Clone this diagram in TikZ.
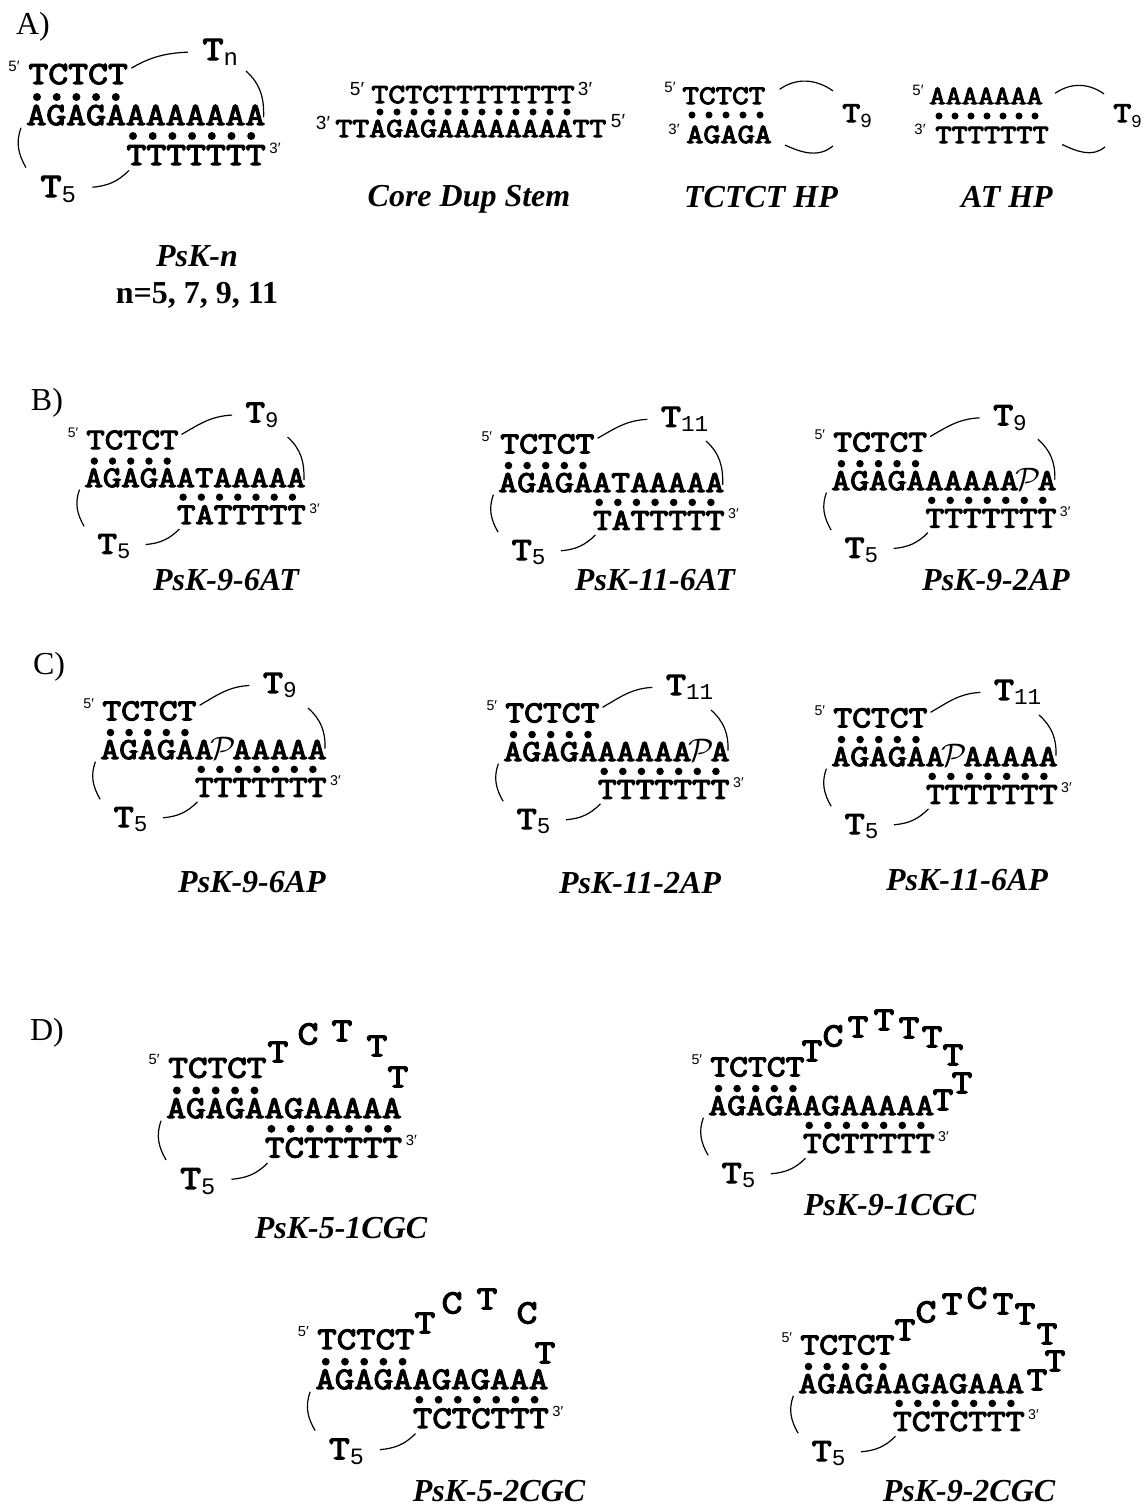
\documentclass[tikz,border=0pt]{standalone}
\usepackage{fontspec}
\setmainfont{Liberation Serif}
\newfontfamily\seqfam[FakeStretch=1.2,FakeBold=4]{Latin Modern Mono}
\newfontfamily\subfam{Liberation Mono}
\newfontfamily\endfam{Liberation Sans}
\usetikzlibrary{positioning}
\newcommand{\ap}{\makebox[0.63em]{$\mathcal{P}$}}
\newcommand{\tlabel}[2][12]{T\raisebox{-2.6pt}{\subfam\fontsize{#1}{#1}\selectfont #2}}
% stem of a hairpin with the T5 tail: name, x, y, scale, middle strand, bottom strand
\newcommand{\stemfig}[6]{%
\begin{scope}[shift={(#2,#3)}, scale=#4, transform shape]
\node[seq] (#1top) at (0,-41) {TCTCT};
\node[seq] (#1mid) at (-2,0) {#5};
\node[seq] (#1bot) at (98,40) {#6};
\node[ends] (#1five) at (-14,-59) {5′};
\node[ends] (#1three) at (247,23) {3′};
\node[tees] (#1tail) at (12,72) {\tlabel{5}};
\foreach \i in {0,...,4} \fill (9+19.7*\i,-28) circle (4);
\foreach \i in {0,...,6} \fill (105+19.7*\i,11) circle (4);
\draw[link] ([shift={(-5,2)}]#1mid.south west) to[out=250,in=120] ([shift={(-14,-8)}]#1tail.north west);
\draw[link] ([shift={(16,-2)}]#1tail.east) to[out=5,in=225] ([shift={(3,5)}]#1bot.south west);
\end{scope}}
% loop over the stem: name, x, y, scale, subscript, position of the T
\newcommand{\loopfig}[6]{%
\begin{scope}[shift={(#2,#3)}, scale=#4, transform shape]
\node[tees] (#1loop) at (#6) {\tlabel{#5}};
\coordinate (#1turn) at (218,-54);
\draw[link] ([shift={(3,-6)}]#1top.east) to[out=30,in=183] ([shift={(-14,0)}]#1loop.west);
\draw[link] (#1turn) to[out=-42,in=88] ([shift={(-2,13)}]#1mid.north east);
\end{scope}}
\begin{document}
\begin{tikzpicture}[x=0.5pt, y=-0.5pt,
  seq/.style={font=\seqfam\fontsize{16.1}{16.1}\selectfont, anchor=base west, inner sep=0pt},
  tees/.style={font=\seqfam\fontsize{17.2}{17.2}\selectfont, anchor=base west, inner sep=0pt},
  lett/.style={font=\seqfam\fontsize{16.8}{16.8}\selectfont, inner sep=0pt},
  ends/.style={font=\endfam\fontsize{7.5}{7.5}\selectfont, inner sep=0pt},
  endb/.style={font=\endfam\fontsize{9.5}{9.5}\selectfont, inner sep=0pt},
  title/.style={font=\fontsize{16}{18}\selectfont\bfseries\itshape, inner sep=0pt},
  panel/.style={font=\fontsize{16}{18}\selectfont, inner sep=0pt},
  link/.style={line width=0.6pt}]
\useasboundingbox (0,0) rectangle (1142,1506);
% A
\node[panel] (pa) at (33,27) {A)};
\stemfig{a}{28}{125}{1}{AGAGAAAAAAAA}{TTTTTTT}
\loopfig{a}{28}{125}{1}{n}{174,-65}
\node[title] (capa) at (197,256) {PsK-n};
\node[title, font=\fontsize{16}{18}\selectfont\bfseries] (capn) at (197,295) {n=5, 7, 9, 11};
% core duplex
\node[seq, font=\seqfam\fontsize{13.7}{14}\selectfont] (dtop) at (371,103) {TCTCTTTTTTTT};
\node[seq, font=\seqfam\fontsize{13.7}{14}\selectfont] (dbot) at (335,137) {TTAGAGAAAAAAAATT};
\foreach \i in {0,...,11} \fill (380+17*\i,112) circle (3.5);
\node[endb] (d5a) at (357,89) {5′};
\node[endb] (d3a) at (585,89) {3′};
\node[endb] (d3b) at (323,123) {3′};
\node[endb] (d5b) at (618,121) {5′};
\node[title] (capd) at (469,199) {Core Dup Stem};
% TCTCT hairpin
\node[seq, font=\seqfam\fontsize{13.4}{14}\selectfont] (htop) at (682,104) {TCTCT};
\node[seq, font=\seqfam\fontsize{13.8}{14}\selectfont] (hbot) at (686,143) {AGAGA};
\foreach \i in {0,...,4} \fill (692+17*\i,115) circle (3.5);
\node[ends] (h5) at (670,87) {5′};
\node[ends] (h3) at (674,129) {3′};
\node[tees, font=\seqfam\fontsize{14.4}{15}\selectfont] (hloop) at (842,122) {\tlabel[10]{9}};
\draw[link] ([shift={(14,-6.5)}]htop.east) to[out=35,in=145] ([shift={(-9,-25)}]hloop.west);
\draw[link] ([shift={(13,10.5)}]hbot.east) to[out=-25,in=-140] ([shift={(-9,30)}]hloop.west);
\node[title] (caph) at (761,197) {TCTCT HP};
% AT hairpin
\node[seq, font=\seqfam\fontsize{13.1}{14}\selectfont] (ttop) at (929,104) {AAAAAAA};
\node[seq, font=\seqfam\fontsize{13.1}{14}\selectfont] (tbot) at (935,143) {TTTTTTT};
\foreach \i in {0,...,6} \fill (939+16*\i,116) circle (3.5);
\node[ends] (t5) at (918,90) {5′};
\node[ends] (t3) at (920,129) {3′};
\node[tees, font=\seqfam\fontsize{14.4}{15}\selectfont] (tloop) at (1113,122) {\tlabel[9]{9}};
\draw[link] ([shift={(12,-2.5)}]ttop.east) to[out=35,in=145] ([shift={(-9,-22)}]tloop.west);
\draw[link] ([shift={(13,9.5)}]tbot.east) to[out=-25,in=-140] ([shift={(-8,31)}]tloop.west);
\node[title] (capt) at (1007,197) {AT HP};
% B
\node[panel] (pb) at (47,403) {B)};
\stemfig{b}{86}{487}{0.925}{AGAGAATAAAAA}{TATTTTT}
\loopfig{b}{86}{487}{0.925}{9}{172,-70}
\node[title] (capb) at (226,580) {PsK-9-6AT};
\stemfig{c}{500}{492}{0.945}{AGAGAATAAAAA}{TATTTTT}
\loopfig{c}{500}{492}{0.945}{11}{170,-69}
\node[title] (capc) at (655,580) {PsK-11-6AT};
\stemfig{e}{833}{490}{0.94}{AGAGAAAAAA\ap A}{TTTTTTT}
\loopfig{e}{833}{490}{0.94}{9}{170,-69}
\node[title] (cape) at (996,580) {PsK-9-2AP};
% C
\node[panel] (pc) at (49,667) {C)};
\stemfig{f}{102}{759}{0.945}{AGAGAA\ap AAAAA}{TTTTTTT}
\loopfig{f}{102}{759}{0.945}{9}{170,-70}
\node[title] (capf) at (252,882) {PsK-9-6AP};
\stemfig{g}{505}{761}{0.945}{AGAGAAAAAA\ap A}{TTTTTTT}
\loopfig{g}{505}{761}{0.945}{11}{170,-70}
\node[title] (capg) at (640,883) {PsK-11-2AP};
\stemfig{h}{833}{766}{0.945}{AGAGAA\ap AAAAA}{TTTTTTT}
\loopfig{h}{833}{766}{0.945}{11}{170,-70}
\node[title] (caph2) at (967,880) {PsK-11-6AP};
% D
\node[panel] (pd) at (47,1033) {D)};
\stemfig{j}{168}{1118}{0.985}{AGAGAAGAAAAA}{TCTTTTT}
\foreach \n/\px/\py/\l in {1/278/1052/T,2/308/1034/C,3/342/1031/T,4/377/1046/T,5/398/1077/T}
  \node[lett] (j\n) at (\px,\py) {\l};
\node[title] (capj) at (341,1228) {PsK-5-1CGC};
\stemfig{k}{710}{1115}{0.945}{AGAGAAGAAAAA}{TCTTTTT}
\foreach \n/\px/\py/\l in {1/812/1051/T,2/833/1036/C,3/858/1027/T,4/884/1020/T,5/909/1028/T,6/932/1037/T,7/953/1055/T,8/962/1083/T,9/943/1100/T}
  \node[lett] (k\n) at (\px,\py) {\l};
\node[title] (capk) at (890,1205) {PsK-9-1CGC};
\stemfig{m}{317}{1389}{0.975}{AGAGAAGAGAAA}{TCTCTTT}
\foreach \n/\px/\py/\l in {1/425/1323/T,2/452/1303/C,3/487/1299/T,4/527/1313/C,5/545/1353/T}
  \node[lett] (m\n) at (\px,\py) {\l};
\node[title] (capm) at (499,1491) {PsK-5-2CGC};
\stemfig{p}{800}{1393}{0.945}{AGAGAAGAGAAA}{TCTCTTT}
\foreach \n/\px/\py/\l in {1/905/1330/T,2/926/1312/C,3/952/1304/T,4/977/1298/C,5/1003/1304/T,6/1025/1314/T,7/1047/1334/T,8/1055/1361/T,9/1037/1380/T}
  \node[lett] (p\n) at (\px,\py) {\l};
\node[title] (capp) at (969,1491) {PsK-9-2CGC};
\end{tikzpicture}
\end{document}
